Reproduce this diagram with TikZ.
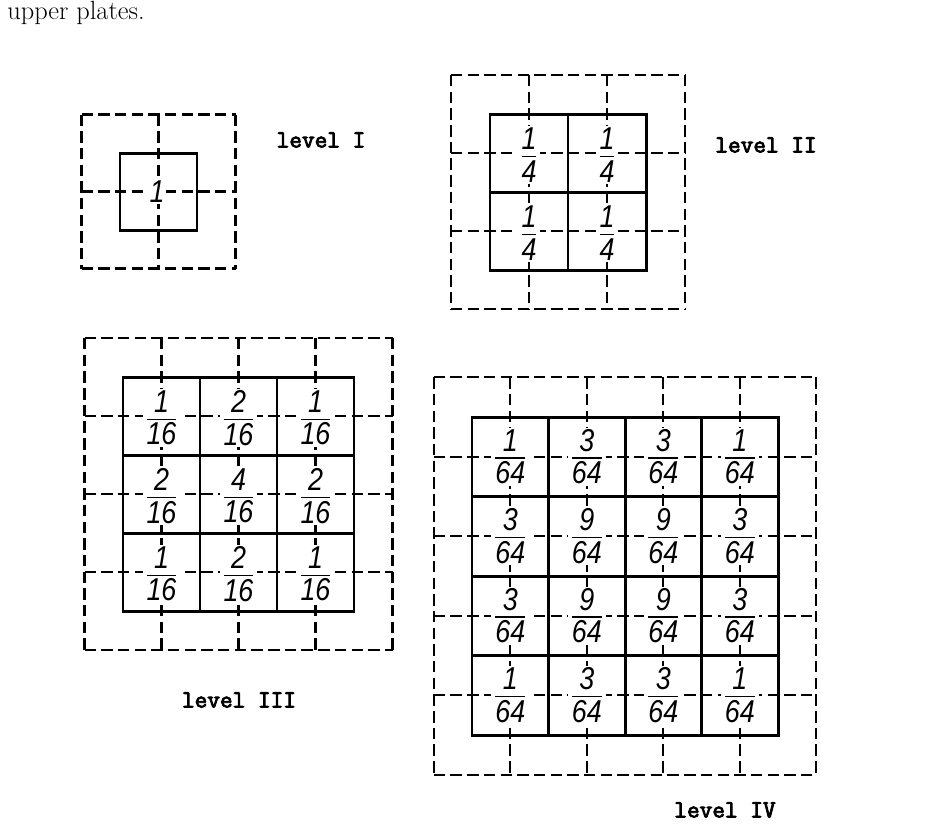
\documentclass[tikz,border=0pt]{standalone}
\usepackage{fontspec}
\usepackage{amsmath}
\newfontfamily\fracfont{Liberation Sans}[FakeStretch=0.85]
\newfontfamily\levelfont{Latin Modern Mono}[FakeBold=3.5]
\newcommand{\wfrac}[2]{$\genfrac{}{}{0.8pt}{1}{\mbox{#1\rule[-2.6pt]{0pt}{0pt}}}{\mbox{\rule{0pt}{13.4pt}#2}}$}
\begin{document}
\begin{tikzpicture}[x=0.02cm,y=-0.02cm,
  cellline/.style={line width=1.7pt,line cap=rect},
  halfline/.style={line width=1.3pt,dash pattern=on 6.5pt off 3pt},
  cellfrac/.style={fill=white,inner sep=1pt,font=\fracfont\itshape\fontsize{18}{18}\selectfont},
  levellabel/.style={font=\levelfont\fontsize{14}{14}\selectfont}]
\useasboundingbox (0,0) rectangle (940,823);
\node[anchor=base west,inner sep=0pt,font=\fontsize{15}{18}\selectfont] (caption) at (7,19) {upper plates.};

% grids: origin x / origin y / cells / cell width / cell height
\foreach \xo/\yo/\n/\w/\h in {120/153/1/77/77, 490/114/2/78/78, 123/377/3/77/78, 472/417/4/76.5/79.5}{
  \pgfmathtruncatemacro\m{\n+1}
  \foreach \i in {0,...,\m}{
    \draw[halfline] (\xo-\w/2+\i*\w,\yo-\h/2) -- (\xo-\w/2+\i*\w,\yo+\n*\h+\h/2);
    \draw[halfline] (\xo-\w/2,\yo-\h/2+\i*\h) -- (\xo+\n*\w+\w/2,\yo-\h/2+\i*\h);
  }
  \foreach \i in {0,...,\n}{
    \draw[cellline] (\xo+\i*\w,\yo) -- (\xo+\i*\w,\yo+\n*\h);
    \draw[cellline] (\xo,\yo+\i*\h) -- (\xo+\n*\w,\yo+\i*\h);
  }
}

% weights
\node[cellfrac] (one) at (157,191.5) {1};
\foreach \r in {1,2}
  \foreach \c in {1,2}
    \node[cellfrac] (quarter\r\c) at (490-39+\c*78,114-37+\r*78) {\wfrac{1}{4}};
\foreach \r/\nums in {1/{1,2,1},2/{2,4,2},3/{1,2,1}}
  \foreach \a [count=\c] in \nums
    \node[cellfrac] (sixteenth\r\c) at (123-38.5+\c*77,377-37+\r*78) {\wfrac{\a}{16}};
\foreach \r/\nums in {1/{1,3,3,1},2/{3,9,9,3},3/{3,9,9,3},4/{1,3,3,1}}
  \foreach \a [count=\c] in \nums
    \node[cellfrac] (sixtyfourth\r\c) at (472-38.25+\c*76.5,417-39.75+\r*79.5) {\wfrac{\a}{64}};

\node[levellabel] (levelI) at (321,140) {level I};
\node[levellabel] (levelII) at (766,145) {level II};
\node[levellabel] (levelIII) at (239,700) {level III};
\node[levellabel] (levelIV) at (725,810) {level IV};
\end{tikzpicture}
\end{document}
